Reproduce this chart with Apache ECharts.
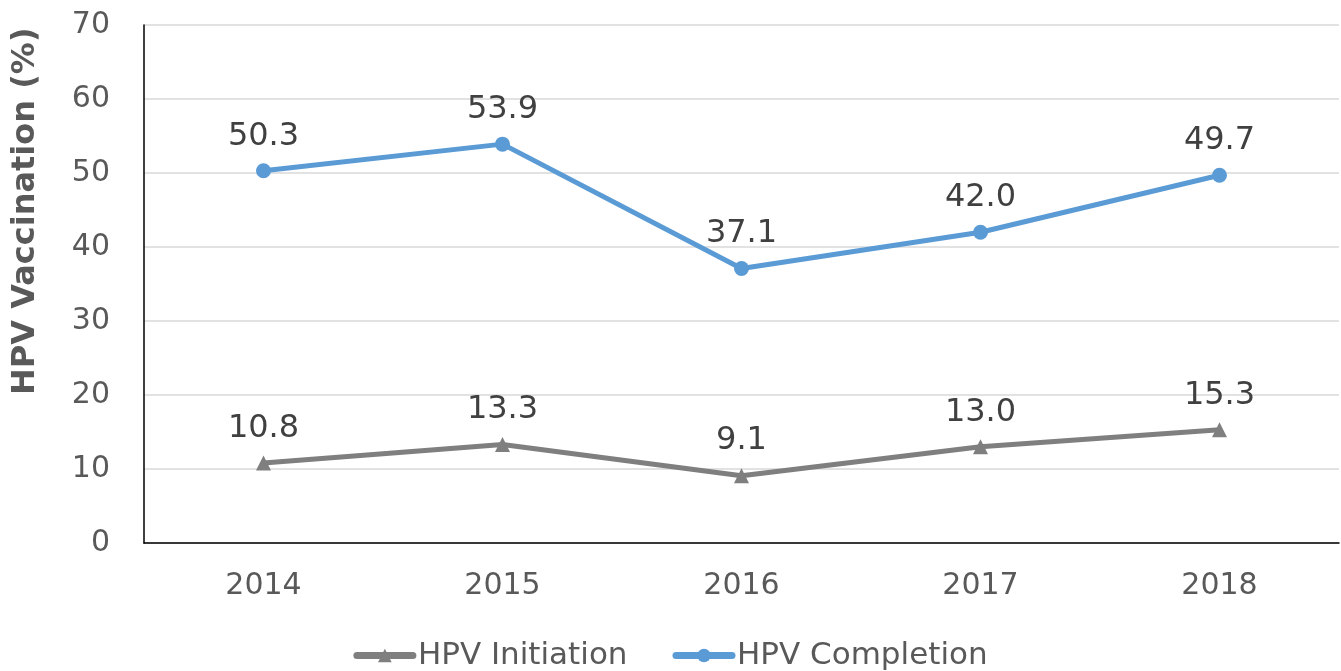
<!DOCTYPE html>
<html>
<head>
<meta charset="utf-8">
<script src="https://cdn.jsdelivr.net/npm/echarts@6/dist/echarts.min.js"></script>
<style>
  html, body { margin: 0; padding: 0; background: #fff; }
  #chart { width: 1341px; height: 671px; }
</style>
</head>
<body>
<div id="chart"></div>
<script>
const years = ["2014", "2015", "2016", "2017", "2018"];
const initiation = [10.8, 13.3, 9.1, 13.0, 15.3];
const completion = [50.3, 53.9, 37.1, 42.0, 49.7];
const yTicks = { min: 0, max: 70, interval: 10 };

const font = "'DejaVu Sans', Verdana, sans-serif";
const chart = echarts.init(document.getElementById("chart"));

const dataLabel = {
  show: true, position: "top", distance: 11,
  fontSize: 32, color: "#404040", fontFamily: font,
  formatter: p => p.value.toFixed(1)
};

chart.setOption({
  backgroundColor: "#fff",
  animation: false,
  textStyle: { fontFamily: font },
  grid: { left: 144, right: 2, top: 25, bottom: 128 },
  legend: {
    top: 635,
    left: "center",
    itemWidth: 56,
    itemHeight: 17,
    itemGap: 45,
    lineStyle: { width: 7, cap: "round" },
    textStyle: { fontSize: 31, color: "#595959", fontFamily: font },
    data: ["HPV Initiation", "HPV Completion"]
  },
  graphic: [{
    type: "text",
    rotation: Math.PI / 2,
    x: 10, y: 395,
    style: {
      text: "HPV Vaccination (%)",
      font: "bold 32px " + font,
      fill: "#595959"
    }
  }],
  xAxis: {
    type: "category",
    data: years,
    axisLine: { lineStyle: { color: "#000", width: 1.5 } },
    axisTick: { show: false },
    axisLabel: { fontSize: 30, color: "#595959", margin: 28, fontFamily: font }
  },
  yAxis: {
    type: "value",
    min: yTicks.min,
    max: yTicks.max,
    interval: yTicks.interval,
    axisLine: { show: true, lineStyle: { color: "#000", width: 1.5 } },
    axisTick: { show: false },
    axisLabel: { fontSize: 30, color: "#595959", margin: 34, fontFamily: font },
    splitLine: { lineStyle: { color: "#d9d9d9", width: 1.5 } }
  },
  series: [
    {
      name: "HPV Initiation",
      type: "line",
      data: initiation,
      symbol: "triangle",
      symbolSize: 15,
      itemStyle: { color: "#7f7f7f" },
      lineStyle: { color: "#7f7f7f", width: 5 },
      label: dataLabel
    },
    {
      name: "HPV Completion",
      type: "line",
      data: completion,
      symbol: "circle",
      symbolSize: 15,
      itemStyle: { color: "#5b9bd5" },
      lineStyle: { color: "#5b9bd5", width: 5 },
      label: dataLabel
    }
  ]
});
</script>
</body>
</html>
